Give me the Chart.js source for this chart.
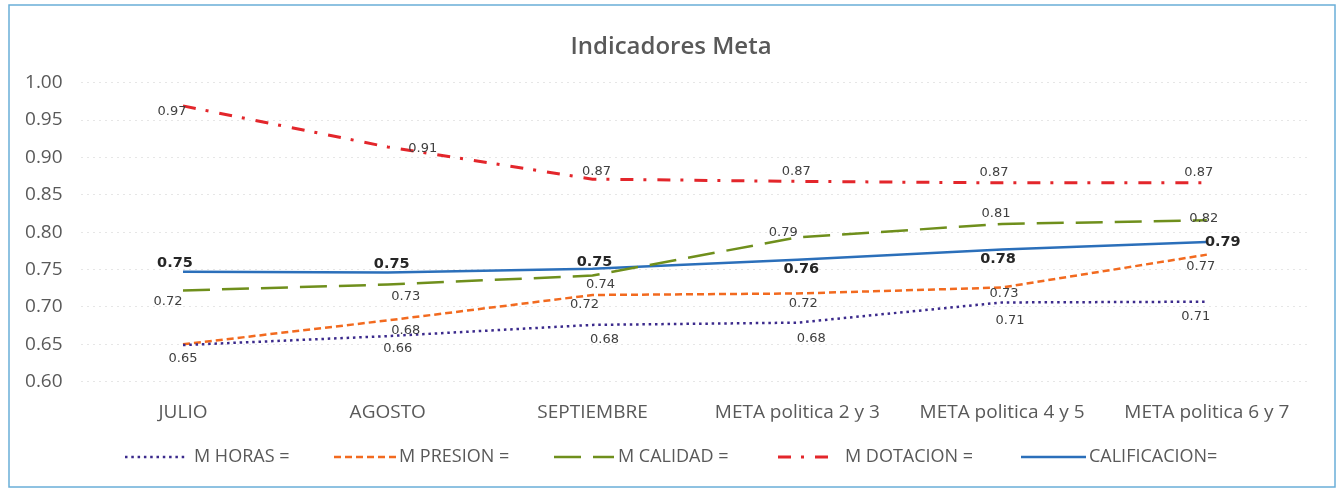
<!DOCTYPE html>
<html>
<head>
<meta charset="utf-8">
<script src="https://cdn.jsdelivr.net/npm/chart.js@4.4.1/dist/chart.umd.min.js"></script>
<style>
  html, body { margin: 0; padding: 0; background: #fff; }
  #wrap { position: relative; width: 1343px; height: 489px; }
</style>
</head>
<body>
<div id="wrap"><canvas id="metaChart"></canvas></div>
<script>
// data
const categories = ['JULIO', 'AGOSTO', 'SEPTIEMBRE', 'META politica 2 y 3', 'META politica 4 y 5', 'META politica 6 y 7'];
const seriesNames = ['M HORAS =', 'M PRESION =', 'M CALIDAD =', 'M DOTACION =', 'CALIFICACION='];
const mHoras = [0.649, 0.661, 0.676, 0.679, 0.706, 0.707];
const mPresion = [0.650, 0.682, 0.716, 0.718, 0.726, 0.770];
const mCalidad = [0.722, 0.730, 0.742, 0.793, 0.811, 0.816];
const mDotacion = [0.969, 0.914, 0.871, 0.868, 0.866, 0.866];
const calificacion = [0.747, 0.746, 0.751, 0.763, 0.777, 0.787];
const yTicks = [0.60, 0.65, 0.70, 0.75, 0.80, 0.85, 0.90, 0.95, 1.00];

// styles
const colors = ['#3b2a8c', '#f26a1f', '#6f8f1c', '#e3262b', '#2b6fba'];
const dashes = [[2.5, 3.8], [7, 4], [27, 12], [13, 10, 3, 11], []];
const widths = [2.5, 2.5, 2.5, 3, 2.5];

// label offsets (dx, dy) from each point, like the Excel label placement
const labelOffsets = [
    [[0, 14], [10, 13], [12, 15], [14, 16], [8, 18], [-11, 15]],
    [[0, 14], [18, 10], [-8, 10], [6, 10], [2, 6], [-6, 12]],
    [[-15, 11], [18, 12], [8, 9], [-14, -5], [-6, -10], [-3, -2]],
    [[-11, 6], [35, 2], [4, -8], [-1, -10], [-8, -10], [-8, -10]],
    [[-8, -9], [4, -8], [2, -7], [4, 9], [-4, 10], [16, 0]]
];
// hide the duplicate label where two series sit on top of each other
const hiddenLabels = [[0, 0]];

// legend placement
const legendY = 457;
const legendSamples = [[125, 185], [334, 396], [554, 614], [778, 832], [1021, 1086]];
const legendTextX = [194, 399, 618, 845, 1089];

const seriesValues = [mHoras, mPresion, mCalidad, mDotacion, calificacion];

const datasets = seriesNames.map(function (name, i) {
    return {
        label: name,
        data: seriesValues[i],
        borderColor: colors[i],
        backgroundColor: colors[i],
        borderWidth: widths[i],
        borderDash: dashes[i],
        borderCapStyle: 'butt',
        tension: 0,
        pointRadius: 0,
        fill: false
    };
});

const decorPlugin = {
    id: 'decor',
    beforeDraw(chart) {
        const ctx = chart.ctx;
        ctx.save();
        ctx.fillStyle = '#fff';
        ctx.fillRect(0, 0, chart.width, chart.height);
        ctx.strokeStyle = '#6aaed8';
        ctx.lineWidth = 1.5;
        ctx.strokeRect(9, 5, 1326, 482);
        // title
        ctx.fillStyle = '#595959';
        ctx.font = '600 24px "Open Sans"';
        ctx.textAlign = 'center';
        ctx.textBaseline = 'middle';
        ctx.fillText('Indicadores Meta', 671, 47);
        ctx.restore();
    },
    afterDatasetsDraw(chart) {
        const ctx = chart.ctx;
        ctx.save();
        ctx.textAlign = 'center';
        ctx.textBaseline = 'middle';
        chart.data.datasets.forEach(function (ds, i) {
            const meta = chart.getDatasetMeta(i);
            const bold = i === 4;
            ctx.font = bold ? 'bold 14.5px "DejaVu Sans"' : '13px "DejaVu Sans"';
            ctx.fillStyle = bold ? '#262626' : '#404040';
            meta.data.forEach(function (pt, j) {
                if (hiddenLabels.some(h => h[0] === i && h[1] === j)) return;
                const off = labelOffsets[i][j];
                ctx.fillText(ds.data[j].toFixed(2), pt.x + off[0], pt.y + off[1]);
            });
        });
        // legend
        chart.data.datasets.forEach(function (ds, i) {
            const s = legendSamples[i];
            ctx.beginPath();
            ctx.strokeStyle = ds.borderColor;
            ctx.lineWidth = ds.borderWidth;
            ctx.setLineDash(ds.borderDash);
            ctx.moveTo(s[0], legendY);
            ctx.lineTo(s[1], legendY);
            ctx.stroke();
            ctx.setLineDash([]);
            ctx.font = '18px "Open Sans"';
            ctx.fillStyle = '#595959';
            ctx.textAlign = 'left';
            ctx.fillText(ds.label, legendTextX[i], legendY);
        });
        ctx.restore();
    }
};

const ctx = document.getElementById('metaChart').getContext('2d');
const metaChart = new Chart(ctx, {
    type: 'line',
    data: { labels: categories, datasets: datasets },
    options: {
        responsive: true,
        maintainAspectRatio: false,
        animation: false,
        layout: { padding: { top: 82.7, bottom: 67.3, left: 0, right: 33.8 } },
        plugins: {
            legend: { display: false },
            title: { display: false },
            tooltip: { enabled: false }
        },
        scales: {
            x: {
                offset: true,
                grid: { display: false, drawTicks: false },
                border: { display: false },
                ticks: {
                    color: '#595959',
                    font: { family: 'Open Sans', size: 19 },
                    padding: 19,
                    maxRotation: 0,
                    autoSkip: false
                },
                afterFit(scale) { scale.height = 40; }
            },
            y: {
                min: 0.60,
                max: 1.00,
                afterBuildTicks(scale) {
                    scale.ticks = yTicks.map(v => ({ value: v }));
                },
                grid: {
                    color: '#e6e6e6',
                    drawTicks: false
                },
                border: { display: false, dash: [2, 4] },
                ticks: {
                    color: '#595959',
                    font: { family: 'Open Sans', size: 19 },
                    padding: 18,
                    callback: v => v.toFixed(2)
                },
                afterFit(scale) { scale.width = 80.6; }
            }
        }
    },
    plugins: [decorPlugin]
});
</script>
</body>
</html>
